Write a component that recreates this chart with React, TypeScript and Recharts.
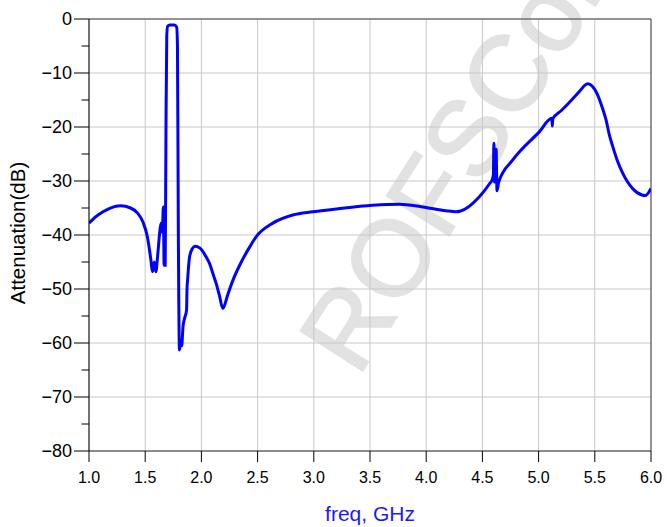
import { LineChart, Line, XAxis, YAxis, CartesianGrid, ReferenceLine, Label } from "recharts";

// frequency sweep (GHz) and attenuation (dB)
const freq = [
  1.0, 1.08, 1.17, 1.28, 1.37, 1.43, 1.48, 1.52, 1.55, 1.565, 1.58, 1.595, 1.61, 1.635, 1.645, 1.652, 1.662,
  1.668, 1.678, 1.685, 1.692, 1.7, 1.72, 1.76, 1.78, 1.787, 1.795, 1.805, 1.815, 1.825, 1.836, 1.851, 1.868,
  1.872, 1.877, 1.895, 1.92, 1.945, 1.969, 2.0, 2.04, 2.073, 2.1, 2.132, 2.16, 2.191, 2.235, 2.28, 2.355, 2.43,
  2.488, 2.636, 2.813, 2.991, 3.228, 3.524, 3.762, 3.969, 4.177, 4.266, 4.3, 4.473, 4.56, 4.59, 4.598, 4.602,
  4.608, 4.622, 4.63, 4.645, 4.77, 5.006, 5.118, 5.122, 5.126, 5.2, 5.302, 5.38, 5.41, 5.436, 5.48, 5.52, 5.56,
  5.6, 5.63, 5.658, 5.7, 5.747, 5.836, 5.92, 5.95, 6.0,
];
const attenuation = [
  -37.8, -36.3, -35.2, -34.6, -35.0, -35.9, -37.6, -40.4, -44.5, -46.8, -45.0, -46.8, -44.0, -38.5, -37.8, -39.5, -34.8,
  -45.6, -45.6, -20, -3, -1.3, -1.1, -1.1, -1.5, -5, -40, -61.3, -59.5, -60.5, -57, -55.4, -53.9,
  -50, -48.4, -44, -42.5, -42.1, -42.2, -42.7, -44.0, -45.3, -47.0, -49.0, -51.2, -53.6, -51.0, -48.4, -45.0, -42.2,
  -40.3, -37.8, -36.3, -35.7, -35.1, -34.5, -34.3, -34.8, -35.5, -35.7, -35.6, -32.9, -30.6, -29.6, -28.8, -23.0,
  -30.2, -24.1, -31.8, -30.2, -26.1, -20.9, -18.4, -19.8, -18.5, -17.0, -14.8, -13.0, -12.3, -12.0, -12.5, -13.8, -16.0,
  -18.7, -21.5, -23.5, -26.2, -28.5, -31.4, -32.6, -32.7, -31.4,
];

const xTicks = [1.0, 1.5, 2.0, 2.5, 3.0, 3.5, 4.0, 4.5, 5.0, 5.5, 6.0];
const yTicks = [0, -5, -10, -15, -20, -25, -30, -35, -40, -45, -50, -55, -60, -65, -70, -75, -80];
const yGrid = [0, -10, -20, -30, -40, -50, -60, -70, -80];

const data = freq.map((f, i) => ({ f, att: attenuation[i] }));

const FONT = "'Liberation Sans', Arial, sans-serif";

function YTick({ x, y, payload }: any) {
  const v = payload.value;
  const major = v % 10 === 0;
  return (
    <g>
      <line x1={x - (major ? 15 : 7.5)} x2={x} y1={y} y2={y} stroke="#000" strokeWidth={1} />
      {major && (
        <text x={x - 17} y={y} dy="0.36em" textAnchor="end" fontSize={18} fill="#000" fontFamily={FONT}>
          {v === 0 ? "0" : "\u2212" + Math.abs(v)}
        </text>
      )}
    </g>
  );
}

export default function App() {
  return (
    <div style={{ position: "relative", width: 667, height: 527, fontFamily: FONT }}>
      <style>{"body{margin:0}"}</style>
      {/* watermark */}
      <svg width={667} height={527} style={{ position: "absolute", left: 0, top: 0 }}>
        <text
          x={358}
          y={378}
          transform="rotate(-57.5 358 378)"
          fontSize={107}
          fill="#e2e2e2"
          stroke="#e2e2e2"
          strokeWidth={2}
          fontFamily={FONT}
        >
          ROFSCom
        </text>
      </svg>
      <div style={{ position: "absolute", left: 0, top: 0 }}>
        <LineChart width={667} height={527} data={data} margin={{ top: 19, right: 16, left: 0, bottom: 0 }}>
          <CartesianGrid stroke="#c8c8c8" strokeWidth={1} horizontalValues={yGrid} verticalValues={xTicks} />
          <XAxis
            dataKey="f"
            type="number"
            domain={[1, 6]}
            ticks={xTicks}
            interval={0}
            allowDataOverflow
            tickFormatter={(v: number) => v.toFixed(1)}
            tick={{ fill: "#000", fontSize: 16, fontFamily: FONT }}
            tickSize={11}
            tickMargin={10}
            tickLine={{ stroke: "#000" }}
            axisLine={{ stroke: "#333" }}
            height={76}
          >
            <Label
              content={({ viewBox }: any) => (
                <text
                  x={viewBox.x + viewBox.width / 2}
                  y={viewBox.y + 70}
                  textAnchor="middle"
                  fontSize={21}
                  fill="#1a1aff"
                  fontFamily={FONT}
                >
                  freq, GHz
                </text>
              )}
            />
          </XAxis>
          <YAxis
            type="number"
            domain={[-80, 0]}
            ticks={yTicks}
            interval={0}
            allowDataOverflow
            tick={<YTick />}
            tickLine={false}
            tickSize={0}
            tickMargin={0}
            axisLine={{ stroke: "#000" }}
            width={89}
          >
            <Label
              content={({ viewBox }: any) => {
                const cx = 17;
                const cy = viewBox.y + viewBox.height / 2 - 2;
                return (
                  <text
                    x={cx}
                    y={cy}
                    transform={`rotate(-90 ${cx} ${cy})`}
                    textAnchor="middle"
                    dominantBaseline="central"
                    fontSize={20.5}
                    fill="#000"
                    fontFamily={FONT}
                  >
                    Attenuation(dB)
                  </text>
                );
              }}
            />
          </YAxis>
          <ReferenceLine y={0} stroke="#444" strokeWidth={1} />
          <ReferenceLine x={6} stroke="#444" strokeWidth={1} />
          <Line
            type="monotone"
            dataKey="att"
            stroke="#0000ff"
            strokeWidth={3}
            dot={false}
            isAnimationActive={false}
          />
        </LineChart>
      </div>
    </div>
  );
}
